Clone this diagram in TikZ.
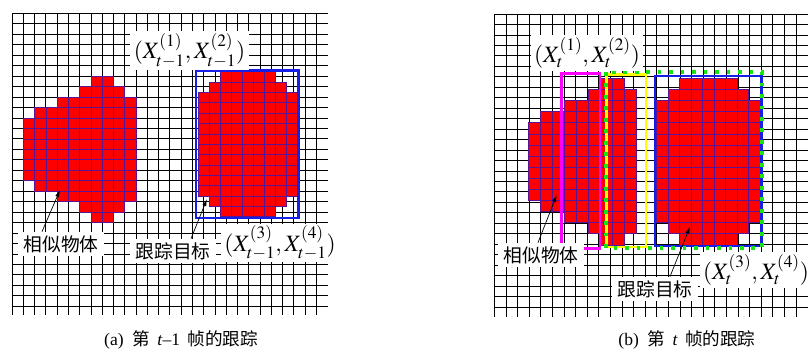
\documentclass[tikz,border=0pt]{standalone}
\usepackage{mathptmx}
\usepackage{fontspec}
\setmainfont{Liberation Serif}
\newfontfamily\cjk{Noto Sans CJK SC}
\usetikzlibrary{arrows.meta}

\definecolor{cellred}{RGB}{255,0,0}
\definecolor{celledge}{RGB}{90,20,150}
\definecolor{boxblue}{RGB}{20,30,230}
\definecolor{boxgreen}{RGB}{20,230,20}
\definecolor{boxyellow}{RGB}{255,255,0}
\definecolor{boxmag}{RGB}{255,0,255}

\begin{document}
\begin{tikzpicture}[
    x=0.03cm, y=-0.03cm,
    gridline/.style={black, line width=0.6pt},
    cell/.style={fill=cellred, draw=celledge, line width=0.5pt},
    tag/.style={fill=white, inner xsep=5pt, inner ysep=3pt, font=\cjk\fontsize{16}{18}\selectfont},
    coordtag/.style={fill=white, inner xsep=3pt, inner ysep=2pt, font=\fontsize{20}{22}\selectfont},
    pointer/.style={-{Latex[length=6pt,width=3.5pt]}, line width=0.6pt},
    caption/.style={font=\fontsize{15}{17}\selectfont}
]
  \useasboundingbox (0,0) rectangle (808,358);

  % ===== (a) frame t-1 =====
  \foreach \i in {0,...,27} \draw[gridline] (12+\i*11.27,13.3) -- (12+\i*11.27,315);
  \foreach \j in {0,...,28} \draw[gridline] (12,13.3+\j*10.46) -- (328,13.3+\j*10.46);
  % similar object
  \foreach \r/\a/\b in {6/7/8,7/6/9,8/4/10,9/2/10,10/1/10,11/1/10,12/1/10,13/1/10,
      14/1/10,15/1/10,16/2/10,17/4/10,18/6/9,19/7/8}
    \foreach \c in {\a,...,\b}
      \draw[cell] (12+\c*11.27,13.3+\r*10.46) rectangle ++(11.27,10.46);
  % tracked target
  \foreach \r/\a/\b in {0/2/6,1/1/7,2/0/8,3/0/8,4/0/8,5/0/8,6/0/8,7/0/8,8/0/8,
      9/0/8,10/0/8,11/0/8,12/1/7,13/2/6}
    \foreach \c in {\a,...,\b}
      \draw[cell] (198+\c*11,71.7+\r*10.36) rectangle ++(11,10.36);
  \draw[boxblue, line width=2.3pt] (196,70.7) rectangle (298.3,218);

  \node[coordtag] (topA) at (189.5,50.5) {$(X_{t-1}^{(1)},X_{t-1}^{(2)})$};
  \node[coordtag] (botA) at (280,243) {$(X_{t-1}^{(3)},X_{t-1}^{(4)})$};
  \node[tag] (simA) at (61,244) {相似物体};
  \node[tag] (trkA) at (173,251) {跟踪目标};
  \coordinate (simAtip) at (60,190);
  \coordinate (trkAtip) at (207,199);
  \draw[pointer] ([xshift=-0.57cm]simA.north) -- (simAtip);
  \draw[pointer] ([xshift=0.54cm]trkA.north) -- (trkAtip);

  % ===== (b) frame t =====
  \foreach \i in {0,...,26} \draw[gridline] (494.3+\i*11.6,14) -- (494.3+\i*11.6,316.7);
  \foreach \j in {0,...,28} \draw[gridline] (494.3,14+\j*10.46) -- (808,14+\j*10.46);
  % similar object
  \foreach \r/\a/\b in {0/6/7,1/5/8,2/3/8,3/1/8,4/0/8,5/0/8,6/0/8,7/0/8,8/0/8,
      9/0/8,10/0/8,11/1/8,12/3/8,13/5/8,14/6/7}
    \foreach \c in {\a,...,\b}
      \draw[cell] (528.3+\c*12,78.3+\r*11.1) rectangle ++(12,11.1);
  % tracked target
  \foreach \r/\a/\b in {0/2/6,1/1/7,2/0/8,3/0/8,4/0/8,5/0/8,6/0/8,7/0/8,8/0/8,
      9/0/8,10/0/8,11/0/8,12/0/8,13/1/7,14/2/6}
    \foreach \c in {\a,...,\b}
      \draw[cell] (656.7+\c*11.5,78.3+\r*11.1) rectangle ++(11.5,11.1);
  \draw[boxmag, line width=2.1pt] (561.7,73.3) rectangle (600,248.3);
  \draw[boxyellow, line width=2.1pt] (606.5,74.5) rectangle (646,247);
  \draw[boxblue, line width=2.1pt] (655,76) rectangle (761.5,246);
  \draw[boxgreen, line width=2.8pt, dash pattern=on 3.2pt off 6.6pt] (606,72) rectangle (762,248);

  \node[coordtag] (topB) at (587,53) {$(X_{t}^{(1)},X_{t}^{(2)})$};
  \node[coordtag] (botB) at (756,270) {$(X_{t}^{(3)},X_{t}^{(4)})$};
  \node[tag] (simB) at (541,255) {相似物体};
  \node[tag] (trkB) at (655,289) {跟踪目标};
  \coordinate (simBtip) at (556.7,195);
  \coordinate (trkBtip) at (690,226.7);
  \draw[pointer] ([xshift=-0.09cm]simB.north) -- (simBtip);
  \draw[pointer] ([xshift=0.45cm]trkB.north) -- (trkBtip);

  % ===== captions =====
  \node[caption] (capA) at (181,340) {(a)\ \ {\cjk 第}\ \,\textit{t}–1\ \,{\cjk 帧的跟踪}};
  \node[caption] (capB) at (687,340) {(b)\ \ {\cjk 第}\ \,\textit{t}\ \,{\cjk 帧的跟踪}};
\end{tikzpicture}
\end{document}
